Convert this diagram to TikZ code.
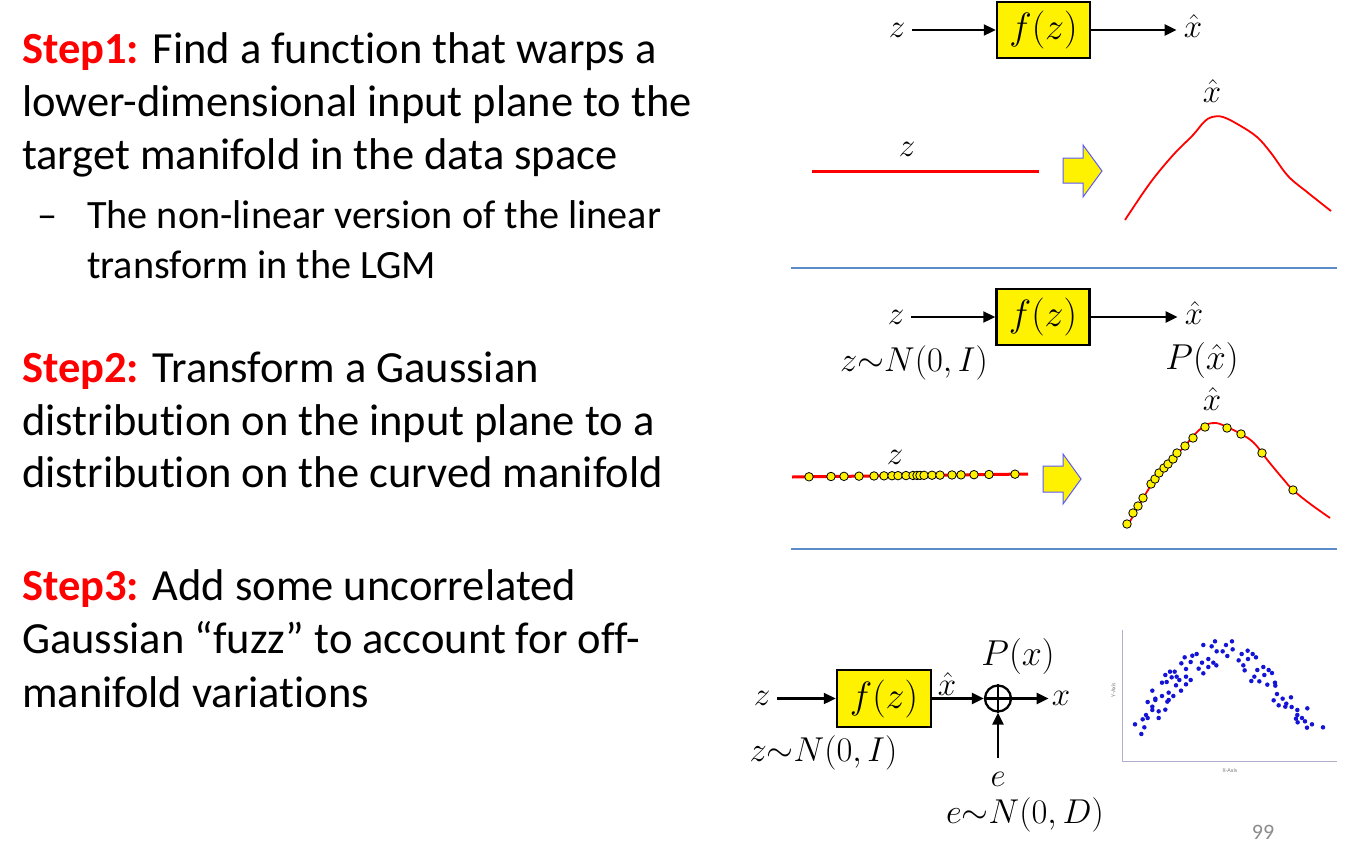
\RequirePackage{fix-cm}
\documentclass[tikz,border=0pt]{standalone}
\usepackage[no-math]{fontspec}
\setmainfont{Carlito}[Ligatures=NoCommon]
\usetikzlibrary{arrows.meta}
\definecolor{sepblue}{RGB}{91,140,200}
\definecolor{axisgray}{RGB}{175,175,205}
\definecolor{dotblue}{RGB}{20,20,215}
\definecolor{pagegray}{RGB}{140,140,140}
\definecolor{arrowblue}{RGB}{90,90,255}
\definecolor{stepred}{RGB}{255,0,0}
\tikzset{
  txt/.style={anchor=base west, inner sep=0pt, font=\fontsize{44.5}{52}\selectfont},
  subtxt/.style={anchor=base west, inner sep=0pt, font=\fontsize{40.2}{48}\selectfont},
  lab/.style={inner ysep=0pt, inner xsep=7pt, font=\fontsize{33}{38}\selectfont},
  dlab/.style={inner ysep=0pt, inner xsep=0pt, font=\fontsize{34.5}{40}\selectfont},
  plab/.style={inner ysep=0pt, inner xsep=0pt, font=\fontsize{36}{42}\selectfont},
  fbox/.style={draw=black, line width=2.5pt, fill=yellow, minimum width=93pt, minimum height=56pt, inner sep=0pt, font=\fontsize{38}{42}\selectfont},
  arr/.style={-{Triangle[length=12pt,width=11pt]}, line width=2.3pt},
  redline/.style={draw=red, line width=3pt},
  curve/.style={draw=red, line width=1.8pt},
  ydot/.style={circle, draw=black, fill=yellow, line width=0.8pt, inner sep=0pt, minimum size=8.5pt},
  seprule/.style={draw=sepblue, line width=1.5pt},
  blockarr/.style={fill=yellow, draw=arrowblue, line width=1pt},
  sdot/.style={circle, fill=dotblue, inner sep=0pt, minimum size=4.5pt},
}
\begin{document}
\begin{tikzpicture}[x=1pt,y=-1pt]
\fill[white] (0,0) rectangle (1358,849);
\useasboundingbox (0,0) rectangle (1358,849);

% ---------- left text ----------
\node[txt] (l1) at (22,63) {\textcolor{stepred}{\textbf{Step1:}} Find a function that warps a};
\node[txt] (l2) at (22,116) {lower-dimensional input plane to the};
\node[txt] (l3) at (22,169) {target manifold in the data space};
\node[subtxt] (b1) at (37,228) {–};
\node[subtxt] (l4) at (87,228) {The non-linear version of the linear};
\node[subtxt] (l5) at (87,278) {transform in the LGM};
\node[txt] (l6) at (22,382) {\textcolor{stepred}{\textbf{Step2:}} Transform a Gaussian};
\node[txt] (l7) at (22,435) {distribution on the input plane to a};
\node[txt] (l8) at (22,487) {distribution on the curved manifold};
\node[txt] (l9) at (22,600) {\textcolor{stepred}{\textbf{Step3:}} Add some uncorrelated};
\node[txt] (l10) at (22,653) {Gaussian “fuzz” to account for off-};
\node[txt] (l11) at (22,707) {manifold variations};

% ---------- diagram 1 ----------
\node[lab] (z1) at (897,30) {$z$};
\node[fbox] (f1) at (1043.5,30) {$f(z)$};
\node[lab] (x1) at (1193,26) {$\hat{x}$};
\draw[arr] (z1) -- (f1);
\draw[arr] (f1.east) -- (f1.east -| x1.west);

\node[lab] (xh1) at (1212,91) {$\hat{x}$};
\node[lab] (zl1) at (907,149) {$z$};
\coordinate (r1a) at (812,171);
\coordinate (r1b) at (1039,171);
\draw[redline] (r1a) -- (r1b);
\draw[blockarr] (1063,158) -- (1083,158) -- (1083,145) -- (1102,171) -- (1083,197) -- (1083,183) -- (1063,183) -- cycle;
\draw[curve] plot[smooth, tension=0.6] coordinates {(1125,220) (1143,193) (1157,174) (1175,153) (1193,135) (1204,122) (1212,117) (1223,117) (1239,125) (1257,137) (1271,153) (1288,176) (1307,192) (1331,211)};

\coordinate (s1a) at (791,268);
\coordinate (s1b) at (1337,268);
\draw[seprule] (s1a) -- (s1b);

% ---------- diagram 2 ----------
\node[lab] (z2) at (896,317) {$z$};
\node[fbox] (f2) at (1043,317) {$f(z)$};
\node[lab] (x2) at (1194,313) {$\hat{x}$};
\draw[arr] (z2) -- (f2);
\draw[arr] (f2.east) -- (f2.east -| x2.west);
\node[dlab] (n2) at (914,363) {$z{\sim}N(0,I)$};
\node[plab] (p2) at (1202,360) {$P(\hat{x})$};

\node[lab] (xh2) at (1212,399) {$\hat{x}$};
\node[lab] (zl2) at (895,457) {$z$};
\coordinate (r2a) at (792,477);
\coordinate (r2b) at (1028,474);
\draw[redline] (r2a) -- (r2b);
\foreach \xx [count=\i] in {809,831,844,859,874,884,892,898,906,913,917,920,924,932,940,952,961,974,989,1015}
  \node[ydot] (ld\i) at (\xx,{477-3*(\xx-792)/236}) {};
\draw[blockarr] (1043,466) -- (1063,466) -- (1063,454) -- (1081,479) -- (1063,504) -- (1063,492) -- (1043,492) -- cycle;
\draw[curve] plot[smooth, tension=0.6] coordinates {(1127,527) (1138,507) (1148,490) (1159,473) (1173,458) (1184,447) (1195,434) (1206,425) (1216,423) (1227,427) (1241,434) (1254,443) (1269,462) (1284,480) (1293,490) (1309,503) (1330,518)};
\foreach \xx/\yy [count=\i] in {1127/524,1133/513,1138/506,1143/498,1151/484,1155/479,1159/473,1164/468,1168/464,1173/459,1177/453,1185/446,1193/438,1205/427,1227/428,1241/434,1262/453,1293/490}
  \node[ydot] (cd\i) at (\xx,\yy) {};

\coordinate (s2a) at (791,549);
\coordinate (s2b) at (1337,549);
\draw[seprule] (s2a) -- (s2b);

% ---------- diagram 3 ----------
\node[lab] (z3) at (762,698.5) {$z$};
\node[fbox, minimum width=94pt, minimum height=57pt] (f3) at (884,698.5) {$f(z)$};
\node[lab] (xh3) at (947,684) {$\hat{x}$};
\node[circle, draw=black, line width=2.3pt, minimum size=26pt, inner sep=0pt] (sum) at (998,698.5) {};
\draw[line width=2.3pt] (sum.north) -- (sum.south) (sum.west) -- (sum.east);
\node[lab, inner xsep=3pt] (x3) at (1061,698.5) {$x$};
\node[plab] (px3) at (1018,656) {$P(x)$};
\node[lab] (e3) at (998,779.5) {$e$};
\coordinate (ebot) at (998,758);
\node[dlab] (ne3) at (1025,814.5) {$e{\sim}N(0,D)$};
\node[dlab] (nz3) at (823.5,753) {$z{\sim}N(0,I)$};
\draw[arr] (z3) -- (f3);
\draw[arr] (f3) -- (sum);
\draw[arr] (sum) -- (x3);
\draw[arr] (ebot) -- (sum.south);

% ---------- scatter plot ----------
\begin{scope}[shift={(1100,620)}, x=0.3333pt, y=-0.3333pt]
  \coordinate (ytop) at (67,30);
  \coordinate (orig) at (67,425);
  \coordinate (xend) at (712,425);
  \draw[draw=axisgray, line width=1pt] (ytop) -- (orig) -- (xend);
  \node[rotate=90, inner sep=0pt, text=gray, font=\fontsize{6}{7}\selectfont] (ylab) at (40,210) {Y-Axis};
  \node[inner sep=0pt, text=gray, font=\fontsize{6}{7}\selectfont] (xlab) at (390,452) {X-Axis};
  \foreach \xx/\yy [count=\i] in {105/313,124/342,133/322,128/298,138/285,143/294,143/246,157/212,157/260,157/270,166/240,166/236,176/274,176/294,186/188,186/228,196/165,196/269,200/186,202/245,206/218,206/240,210/155,215/172,220/228,224/155,228/196,230/170,238/180,243/212,244/130,254/112,258/147,258/170,258/193,272/180,272/126,277/107,290/102,296/146,306/128,310/75,310/160,325/117,325/141,335/79,340/128,345/64,350/94,349/136,368/94,378/75,382/108,396/64,398/88,416/121,425/102,430/136,434/151,443/92,444/117,454/183,458/102,463/170,468/112,472/150,478/184,490/141,493/165,502/194,506/150,516/159,525/188,526/197,531/222,521/241,536/256,548/236,556/260,559/251,573/232,575/261,592/270,592/285,588/296,593/307,606/294,615/304,622/265,621/323,636/313,669/322}
    \node[sdot] (sp\i) at (\xx,\yy) {};
\end{scope}

\node[inner sep=0pt, text=pagegray, font=\fontsize{22}{26}\selectfont] (pg) at (1263,832) {99};
\end{tikzpicture}
\end{document}
